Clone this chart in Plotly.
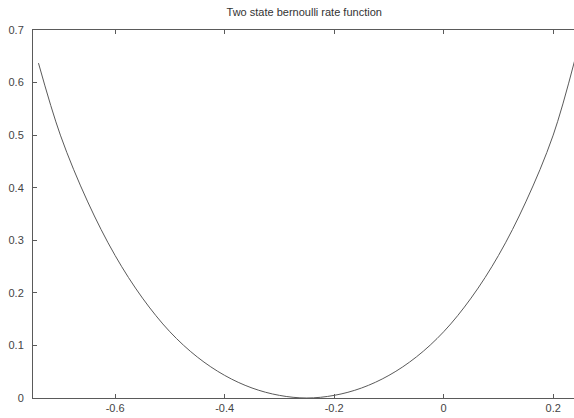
import plotly.graph_objects as go

# Rate function samples
x_vals = [-0.74, -0.70, -0.65, -0.60, -0.55, -0.50, -0.45, -0.40, -0.35, -0.30,
          -0.25, -0.20, -0.15, -0.10, -0.05, 0.00, 0.05, 0.10, 0.15, 0.20, 0.24]
rate_vals = [0.637, 0.500, 0.373, 0.271, 0.190, 0.126, 0.078, 0.043, 0.019, 0.005,
             0.000, 0.005, 0.019, 0.043, 0.078, 0.126, 0.190, 0.271, 0.373, 0.500, 0.645]

x_ticks = [-0.6, -0.4, -0.2, 0, 0.2]
x_tick_text = ["-0.6", "-0.4", "-0.2", "0", "0.2"]
y_ticks = [0, 0.1, 0.2, 0.3, 0.4, 0.5, 0.6, 0.7]
y_tick_text = ["0", "0.1", "0.2", "0.3", "0.4", "0.5", "0.6", "0.7"]

line_col = "#5a5a5a"
font = dict(family="Liberation Sans, Arial, sans-serif", size=11, color="#444444")

fig = go.Figure()
fig.add_trace(go.Scatter(
    x=x_vals, y=rate_vals, mode="lines",
    line=dict(color=line_col, width=1, shape="spline", smoothing=1.0),
    showlegend=False, hoverinfo="skip",
))

fig.update_layout(
    width=574, height=418,
    margin=dict(l=33, r=0, t=30, b=20),
    paper_bgcolor="white", plot_bgcolor="white",
    font=font,
    title=dict(text="Two state bernoulli rate function", x=0.53, xanchor="center",
               y=0.97, yanchor="middle", font=dict(size=11, color="#333333")),
    xaxis=dict(
        range=[-0.75, 0.238], tickvals=x_ticks, ticktext=x_tick_text,
        showgrid=False, zeroline=False, showline=True, linecolor=line_col, linewidth=1,
        mirror="ticks", ticks="inside", ticklen=4, tickcolor=line_col, tickwidth=1,
    ),
    yaxis=dict(
        range=[0, 0.7], tickvals=y_ticks, ticktext=y_tick_text,
        showgrid=False, zeroline=False, showline=True, linecolor=line_col, linewidth=1,
        mirror=False, ticks="inside", ticklen=4, tickcolor=line_col, tickwidth=1,
        ticklabelstandoff=6,
    ),
)

fig.write_html("out.html")
